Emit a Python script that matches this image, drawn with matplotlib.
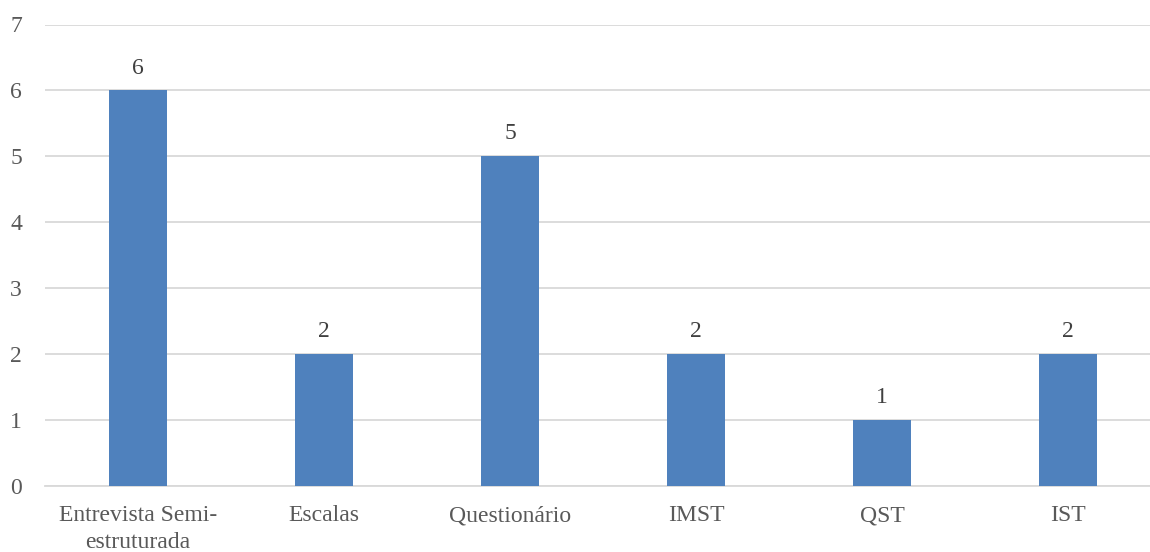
import matplotlib
matplotlib.use('Agg')
import matplotlib.pyplot as plt

categories = ['Entrevista Semi-\nestruturada', 'Escalas', 'Questionário', 'IMST', 'QST', 'IST']
counts = [6, 2, 5, 2, 1, 2]

BAR_COLOR = '#4F81BD'
GRID_COLOR = '#D9D9D9'
TICK_COLOR = '#595959'

plt.rcParams['font.family'] = ['Liberation Serif', 'DejaVu Serif']

fig = plt.figure(figsize=(11.5, 5.52), dpi=100)
# plot area spans a bit past the right edge of the canvas
ax = fig.add_axes([45 / 1150, 1 - 486 / 552, 1116 / 1150, (486 - 24.5) / 552])

x = list(range(len(categories)))
bars = ax.bar(x, counts, width=0.31, color=BAR_COLOR, zorder=3)

for rect, v in zip(bars, counts):
    ax.text(rect.get_x() + rect.get_width() / 2, v + 0.18, str(v),
            ha='center', va='bottom', fontsize=17, color='#404040')

ax.set_xlim(-0.5, len(categories) - 0.5)
ax.set_ylim(0, 7)
ax.set_yticks(range(8))
ax.yaxis.grid(True, color=GRID_COLOR, linewidth=1.3, zorder=0)

for side in ['top', 'right', 'left']:
    ax.spines[side].set_visible(False)
ax.spines['bottom'].set_color(GRID_COLOR)
ax.spines['bottom'].set_linewidth(1.3)

ax.set_xticks(x)
ax.set_xticklabels(categories, linespacing=1.35)
ax.tick_params(axis='both', length=0, labelsize=17, labelcolor=TICK_COLOR)
ax.tick_params(axis='y', pad=25)
ax.tick_params(axis='x', pad=14)
for lbl in ax.get_yticklabels():
    lbl.set_horizontalalignment('left')

fig.savefig('out.png', dpi=100)
